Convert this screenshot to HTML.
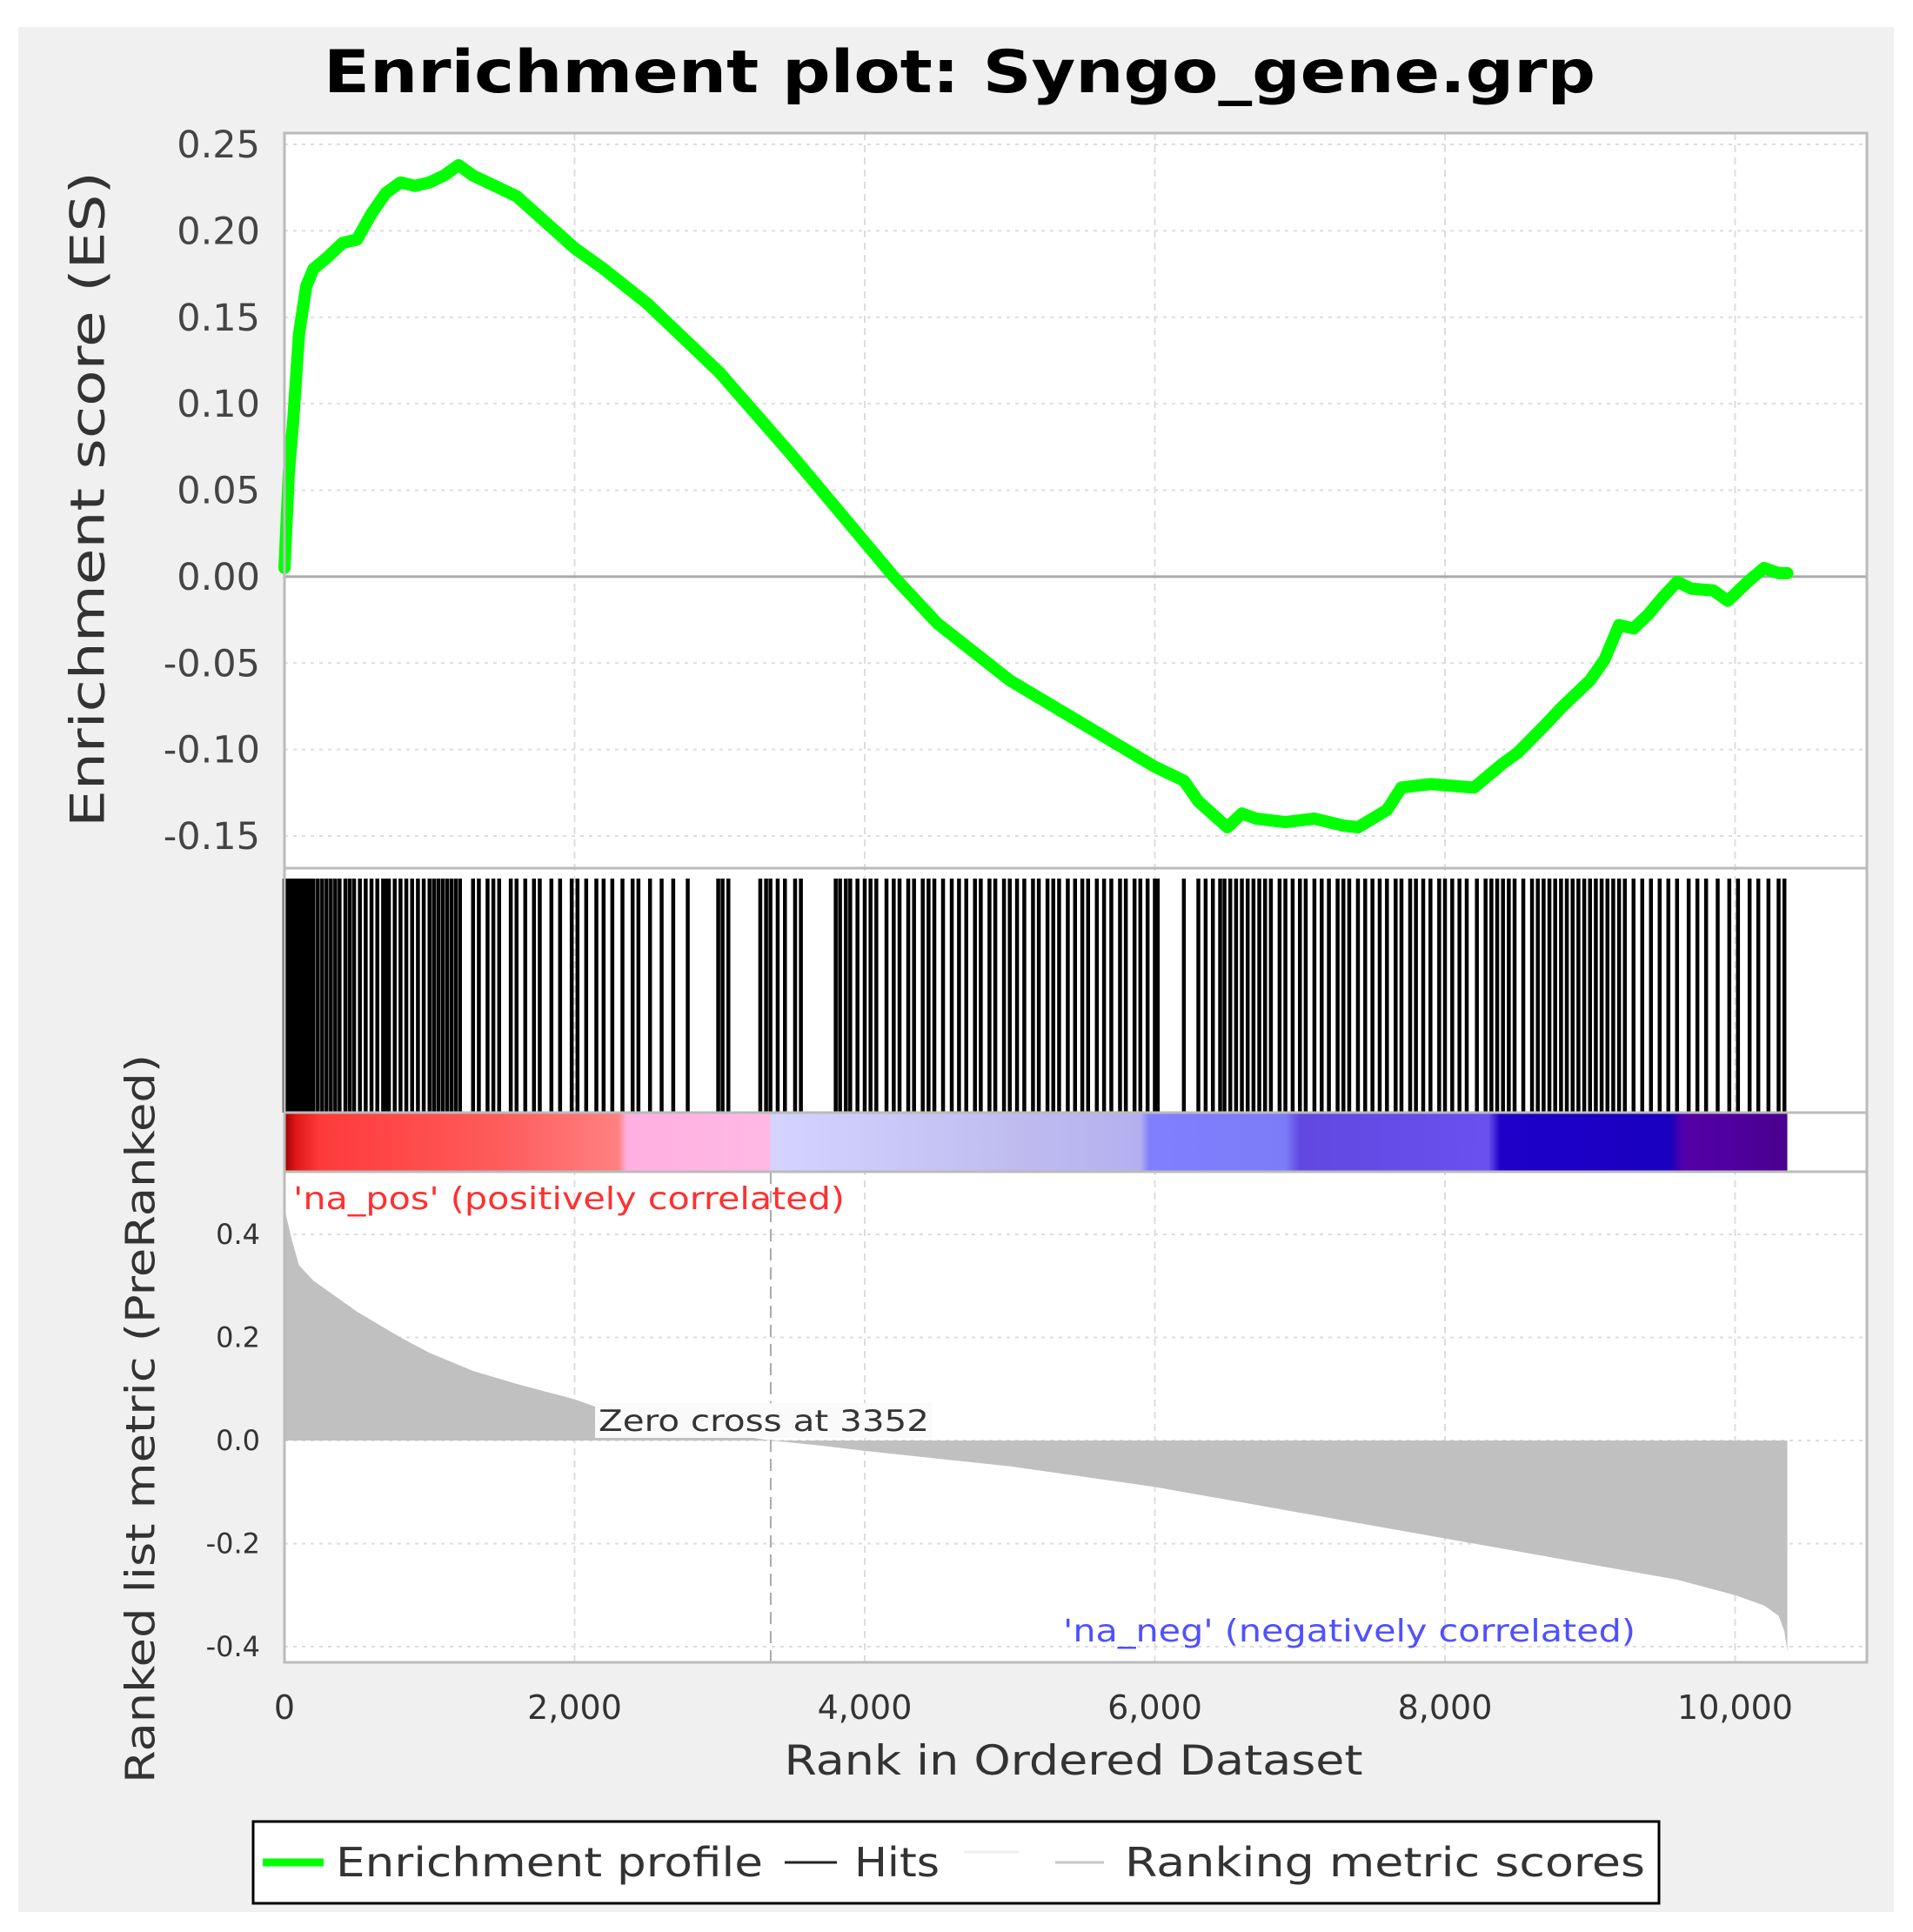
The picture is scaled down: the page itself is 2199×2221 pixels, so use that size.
<!DOCTYPE html>
<html><head><meta charset="utf-8"><style>
html,body{margin:0;padding:0;background:#fff;}
svg{display:block;font-family:"DejaVu Sans","Liberation Sans",sans-serif;}
</style></head><body>
<svg id="chart" width="2199" height="2221" viewBox="0 0 2199 2221" xmlns="http://www.w3.org/2000/svg">
<rect x="21" y="31" width="2156" height="2167" fill="#f0f0f0"/>
<text x="1103" y="106" text-anchor="middle" font-size="68" font-weight="bold" textLength="1462" lengthAdjust="spacingAndGlyphs">Enrichment plot: Syngo_gene.grp</text>
<rect x="327" y="153" width="1819" height="1758" fill="#fff"/>
<g id="grid"></g>
<g id="es"></g>
<g id="hits"></g>
<g id="cbar"></g>
<g id="metric"></g>
<g id="frame"></g>
<text x="105" y="574" transform="rotate(-90 105 574)" text-anchor="middle" dominant-baseline="middle" font-size="54" fill="#333" textLength="754" lengthAdjust="spacingAndGlyphs">Enrichment score (ES)</text>
<text x="165" y="1631" transform="rotate(-90 165 1631)" text-anchor="middle" dominant-baseline="middle" font-size="46" fill="#333" textLength="838" lengthAdjust="spacingAndGlyphs">Ranked list metric (PreRanked)</text>
<text x="1234" y="2040" text-anchor="middle" font-size="47" fill="#333" textLength="665" lengthAdjust="spacingAndGlyphs">Rank in Ordered Dataset</text>
<g>
<rect x="291" y="2094" width="1616" height="94" fill="#fff" stroke="#000" stroke-width="3"/>
<line x1="302" y1="2141" x2="372" y2="2141" stroke="#00ff00" stroke-width="9"/>
<text x="386" y="2157" font-size="46" fill="#333" textLength="491" lengthAdjust="spacingAndGlyphs">Enrichment profile</text>
<line x1="902" y1="2141" x2="962" y2="2141" stroke="#222" stroke-width="3"/>
<text x="982" y="2157" font-size="46" fill="#333" textLength="98" lengthAdjust="spacingAndGlyphs">Hits</text>
<line x1="1108" y1="2129" x2="1171" y2="2129" stroke="#eee" stroke-width="3"/>
<line x1="1213" y1="2141" x2="1269" y2="2141" stroke="#c8c8c8" stroke-width="3"/>
<text x="1293" y="2157" font-size="46" fill="#333" textLength="598" lengthAdjust="spacingAndGlyphs">Ranking metric scores</text>
</g>
</svg>
<script>
const esRanks=[0,30,60,100,150,200,300,400,500,600,700,800,900,1000,1100,1200,1300,1400,1600,1800,2000,2200,2500,3000,3500,4000,4200,4500,5000,5200,5500,6000,6200,6300,6500,6600,6700,6900,7100,7300,7400,7600,7700,7900,8200,8400,8500,8700,8800,9000,9100,9200,9300,9400,9500,9600,9700,9850,9950,10100,10200,10300,10360];
const esValues=[0.005,0.06,0.09,0.14,0.168,0.178,0.185,0.193,0.195,0.21,0.222,0.228,0.226,0.228,0.232,0.238,0.232,0.228,0.22,0.205,0.19,0.178,0.158,0.118,0.07,0.02,0.0,-0.027,-0.06,-0.07,-0.085,-0.11,-0.118,-0.13,-0.145,-0.137,-0.14,-0.142,-0.14,-0.144,-0.145,-0.135,-0.122,-0.12,-0.122,-0.108,-0.102,-0.085,-0.076,-0.06,-0.048,-0.028,-0.03,-0.022,-0.012,-0.003,-0.007,-0.008,-0.014,-0.002,0.005,0.002,0.002];
const hitRanks=[0,15,30,45,60,80,100,120,140,160,180,200,230,260,290,320,350,380,420,450,480,520,560,600,640,680,700,720,760,800,840,880,920,960,1000,1030,1060,1090,1120,1150,1180,1210,1300,1340,1400,1440,1480,1560,1600,1660,1720,1760,1840,1900,1980,2020,2080,2150,2200,2260,2330,2400,2440,2520,2600,2680,2780,2990,3020,3060,3280,3320,3350,3400,3450,3520,3560,3800,3830,3870,3900,3950,4000,4040,4080,4150,4200,4240,4300,4340,4400,4440,4480,4540,4600,4650,4700,4760,4800,4860,4900,4960,5000,5050,5100,5160,5200,5260,5300,5340,5400,5450,5500,5540,5600,5650,5700,5760,5800,5860,5900,5950,6000,6020,6200,6300,6350,6400,6450,6480,6520,6560,6600,6640,6680,6720,6760,6800,6860,6900,6950,7000,7040,7100,7150,7200,7260,7300,7340,7400,7450,7500,7550,7600,7660,7700,7760,7800,7850,7900,7960,8000,8050,8100,8150,8220,8280,8320,8360,8400,8440,8480,8540,8600,8640,8680,8720,8760,8800,8840,8880,8920,8960,9000,9040,9080,9120,9160,9200,9240,9300,9360,9420,9480,9540,9600,9680,9740,9800,9880,9960,10020,10100,10160,10230,10300,10340];
const metricRanks=[0,50,100,200,300,500,800,1000,1300,1600,2000,2200,2500,3000,3352,3700,4000,5000,6000,7000,8000,9000,9600,10000,10200,10300,10340,10360];
const metricValues=[0.45,0.39,0.34,0.31,0.29,0.25,0.2,0.17,0.135,0.11,0.08,0.06,0.04,0.015,0.0,-0.01,-0.02,-0.05,-0.09,-0.14,-0.19,-0.24,-0.27,-0.3,-0.32,-0.34,-0.37,-0.41];
const cbarRanks=[0,80,250,1500,2300,2360,3340,3360,5000,5900,5960,6900,7000,8300,8380,9550,9650,10360];
const cbarColors=["#a00000","#e01818","#ff3a3a","#ff5c5c","#ff8080","#ffb0e0","#ffb8e4","#d4d4ff","#c0bcf0","#b4b0f0","#8080ff","#7c7cf8","#6048e0","#6a50f0","#1e00c8","#1a00c0","#5400a8","#4a0090"];
const esTicks=[0.25,0.2,0.15,0.1,0.05,0,-0.05,-0.1,-0.15];
const esTickLabels=["0.25","0.20","0.15","0.10","0.05","0.00","-0.05","-0.10","-0.15"];
const metricTicks=[0.4,0.2,0,-0.2,-0.4];
const metricTickLabels=["0.4","0.2","0.0","-0.2","-0.4"];
const xTicks=[0,2000,4000,6000,8000,10000];
const xTickLabels=["0","2,000","4,000","6,000","8,000","10,000"];
const zeroCross=3352;

const NS="http://www.w3.org/2000/svg";
const X0=327,X1=2146;
const ES_TOP=153,ES_BOT=998,HIT_BOT=1279,CB_BOT=1347,M_BOT=1911;
const xs=r=>327+r*0.16675;
const yES=v=>166+(0.25-v)*(961-166)/0.4;
const yM=v=>1656-v*(1656-1419)/0.4;
function mk(tag,attrs,parent){const e=document.createElementNS(NS,tag);for(const k in attrs)e.setAttribute(k,attrs[k]);parent.appendChild(e);return e;}
const grid=document.getElementById('grid');
xTicks.forEach((t,i)=>{if(t===0)return;
 const l=mk('line',{x1:xs(t),x2:xs(t),y1:ES_TOP,y2:M_BOT,stroke:'#ddd','stroke-width':2,'stroke-dasharray':'8,6'},grid);
 
 });
esTicks.forEach(t=>{const l=mk('line',{x1:X0,x2:X1,y1:yES(t),y2:yES(t),stroke:'#ddd','stroke-width':2,'stroke-dasharray':'4,6'},grid);
 
 });
metricTicks.forEach(t=>{const l=mk('line',{x1:X0,x2:X1,y1:yM(t),y2:yM(t),stroke:'#ddd','stroke-width':2,'stroke-dasharray':'4,6'},grid);
 
 });
const es=document.getElementById('es');
const zl=mk('line',{x1:X0,x2:X1,y1:yES(0),y2:yES(0),stroke:'#aaa','stroke-width':3},es);


esTicks.forEach((t,i)=>{const tx=mk('text',{x:299,y:yES(t)+15,'text-anchor':'end','font-size':43,fill:'#444'},es);tx.textContent=esTickLabels[i];
 
 });
const esPath=mk('polyline',{points:esRanks.map((r,i)=>xs(r)+','+yES(esValues[i])).join(' '),fill:'none',stroke:'#00ff00','stroke-width':14,'stroke-linejoin':'round','stroke-linecap':'round'},es);


const hits=document.getElementById('hits');
hitRanks.forEach(r=>{const l=mk('line',{x1:xs(r),x2:xs(r),y1:1010,y2:HIT_BOT,stroke:'#000','stroke-width':4.5},hits);
 
 });
const cb=document.getElementById('cbar');
const defs=mk('defs',{},cb);
const lg=mk('linearGradient',{id:'cg',x1:0,x2:1,y1:0,y2:0},defs);
const last=cbarRanks[cbarRanks.length-1];
cbarRanks.forEach((r,i)=>mk('stop',{offset:r/last,'stop-color':cbarColors[i]},lg));
const cr=mk('rect',{x:xs(0),y:HIT_BOT+1,width:xs(last)-xs(0),height:CB_BOT-HIT_BOT-1,fill:'url(#cg)'},cb);


const m=document.getElementById('metric');
let pts=xs(metricRanks[0])+','+yM(0)+' ';
pts+=metricRanks.map((r,i)=>xs(r)+','+yM(metricValues[i])).join(' ');
pts+=' '+xs(metricRanks[metricRanks.length-1])+','+yM(0);
const area=mk('polygon',{points:pts,fill:'#c0c0c0'},m);


const zc=mk('line',{x1:xs(zeroCross),x2:xs(zeroCross),y1:CB_BOT,y2:M_BOT,stroke:'#aaa','stroke-width':2,'stroke-dasharray':'14,8'},m);


const zb=mk('rect',{x:684,y:1613,width:388,height:40,fill:'#fafafa'},m);


const zt=mk('text',{x:688,y:1645,'font-size':34,fill:'#333',textLength:380,lengthAdjust:'spacingAndGlyphs'},m);
zt.textContent='Zero cross at '+zeroCross;


metricTicks.forEach((t,i)=>{const tx=mk('text',{x:299,y:yM(t)+11,'text-anchor':'end','font-size':32,fill:'#333'},m);tx.textContent=metricTickLabels[i];
 
 });
const np=mk('text',{x:337,y:1390,'font-size':36,fill:'#ff3030',textLength:634,lengthAdjust:'spacingAndGlyphs'},m);
np.textContent="'na_pos' (positively correlated)";


const nn=mk('text',{x:1880,y:1887,'font-size':36,fill:'#5050ff','text-anchor':'end',textLength:658,lengthAdjust:'spacingAndGlyphs'},m);
nn.textContent="'na_neg' (negatively correlated)";


xTicks.forEach((t,i)=>{const tx=mk('text',{x:xs(t),y:1976,'text-anchor':'middle','font-size':38,fill:'#333'},m);tx.textContent=xTickLabels[i];
 
 });
const f=document.getElementById('frame');
[[ES_TOP,ES_BOT],[ES_BOT,HIT_BOT],[HIT_BOT,CB_BOT],[CB_BOT,M_BOT]].forEach(([a,b])=>{const r=mk('rect',{x:X0,y:a,width:X1-X0,height:b-a,fill:'none',stroke:'#bbb','stroke-width':3},f);
 
 });
</script>
</body></html>
